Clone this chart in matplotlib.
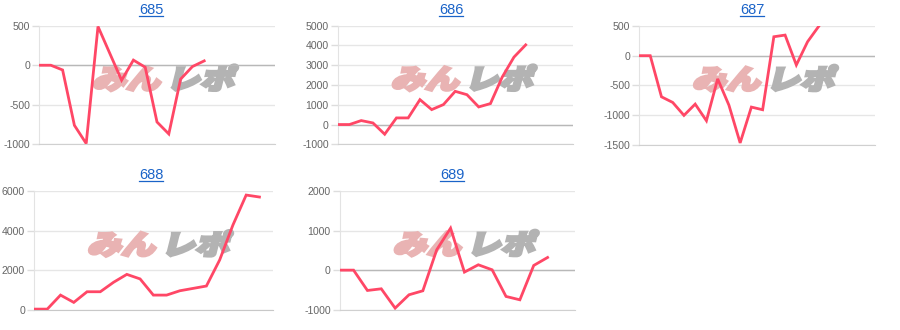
import numpy as np
import matplotlib
matplotlib.use("Agg")
import matplotlib.pyplot as plt
from matplotlib.textpath import TextPath
from matplotlib.patches import PathPatch
from matplotlib.transforms import Affine2D
from matplotlib.font_manager import FontProperties
from matplotlib.lines import Line2D

plt.rcParams['font.family'] = ['Liberation Sans', 'DejaVu Sans']
plt.rcParams['axes.unicode_minus'] = False

W, H = 900, 330

# chart data
titles = ['685', '686', '687', '688', '689']
v685 = [0, 0, -60, -760, -990, 490, 150, -190, 65, -25, -718, -869, -176, -17, 55]
v686 = [0, 0, 200, 80, -490, 335, 335, 1260, 755, 1010, 1680, 1510, 890, 1060, 2400, 3410, 4030]
v687 = [0, 0, -693, -788, -1006, -816, -1096, -391, -833, -1470, -866, -911, 319, 347, -157, 235, 497]
v688 = [30, 30, 740, 370, 910, 910, 1390, 1790, 1560, 740, 740, 960, 1080, 1200, 2520, 4290, 5810, 5710]
v689 = [0, 0, -514, -472, -960, -623, -522, 514, 1061, -50, 135, 8, -665, -750, 118, 320]
series = [v685, v686, v687, v688, v689]

# axis settings per panel
xmax = [20, 20, 21, 18, 17]
ylims = [(-1000, 500), (-1000, 5000), (-1500, 500), (0, 6000), (-1000, 2000)]
ysteps = [500, 1000, 500, 2000, 1000]

# plot boxes in pixels: left, right, top, bottom
boxes = [(39, 275, 25.7, 144.3),
         (337.7, 572.7, 25.7, 144.3),
         (639, 875, 26, 144.7),
         (34, 272.7, 191.3, 309.7),
         (339.7, 575.3, 191, 309.7)]
title_pos = [(151, 10), (451, 10), (752, 10), (151, 175), (452, 175)]

line_color = '#ff4766'
title_color = '#1a63c8'

fig = plt.figure(figsize=(W / 100, H / 100), dpi=100)

cjk = FontProperties(family='Noto Sans CJK JP', weight='heavy')


def watermark(ax, x0, ybase):
    # logo-like stamp, drawn in display pixels
    p1 = TextPath((0, 0), 'みん', size=34, prop=cjk)
    p2 = TextPath((0, 0), 'レポ', size=34, prop=cjk)
    t1 = Affine2D().scale(1.0, 0.8).skew_deg(14, 0).translate(x0, ybase)
    t2 = Affine2D().scale(1.0, 0.8).skew_deg(14, 0).translate(x0 + 74, ybase)
    a = PathPatch(p1, transform=t1, fc='#e9b3b3', ec='#e9b3b3', lw=2.2, zorder=0.6)
    b = PathPatch(p2, transform=t2, fc='#b3b3b3', ec='#b3b3b3', lw=2.2, zorder=0.6)
    ax.add_artist(a)
    ax.add_artist(b)


axes = []
for i, vals in enumerate(series):
    l, r, t, b = boxes[i]
    ax = fig.add_axes([l / W, 1 - b / H, (r - l) / W, (b - t) / H])
    ax.patch.set_alpha(0)
    x = np.arange(len(vals))
    ax.plot(x, vals, color=line_color, lw=2.0, zorder=3, solid_joinstyle='miter')
    lo, hi = ylims[i]
    ax.set_xlim(0, xmax[i])
    ax.set_ylim(lo, hi)
    ax.set_yticks(np.arange(lo, hi + 1, ysteps[i]))
    ax.set_xticks([])
    ax.grid(axis='y', color='#e6e6e6', lw=1.0)
    ax.set_axisbelow(True)
    if lo < 0:
        ax.axhline(0, color='#b8b8b8', lw=1.0, zorder=1)
    for s in ['top', 'right']:
        ax.spines[s].set_visible(False)
    ax.spines['left'].set_color('#e3e3e3')
    ax.spines['bottom'].set_color('#c8c8c8' if lo == 0 else '#d0d0d0')
    ax.tick_params(axis='y', length=5, width=1, color='#dddddd', pad=1.5,
                   labelsize=7.6, labelcolor='#666666')
    watermark(ax, l + 53, H - t - 63)
    axes.append(ax)

# titles with underline
titles_txt = []
for i, name in enumerate(titles):
    cx, cy = title_pos[i]
    txt = fig.text(cx / W, 1 - cy / H, name, ha='center', va='center',
                   fontsize=10.5, color=title_color)
    titles_txt.append(txt)

fig.canvas.draw()
rend = fig.canvas.get_renderer()
for i, txt in enumerate(titles_txt):
    bb = txt.get_window_extent(rend)
    uy = (bb.y0 + 0.8) / H
    fig.add_artist(Line2D([bb.x0 / W, bb.x1 / W], [uy, uy], color=title_color,
                          lw=0.9, transform=fig.transFigure))

fig.savefig('out.png', dpi=100)
